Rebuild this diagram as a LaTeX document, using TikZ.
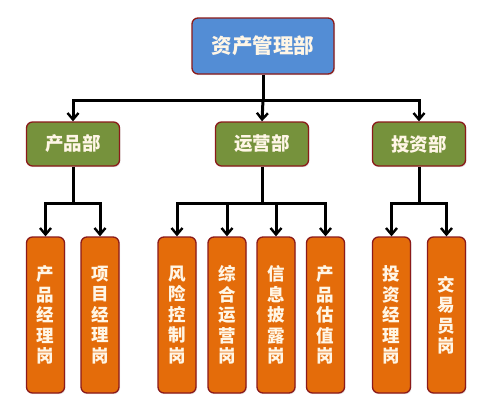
\documentclass[tikz,border=0pt]{standalone}
\usepackage{fontspec}
\newfontfamily\cjk{Noto Sans CJK SC}
\usetikzlibrary{arrows.meta,shadows}
\definecolor{topblue}{HTML}{538DD5}
\definecolor{deptgreen}{HTML}{76923C}
\definecolor{leaforange}{HTML}{E46C0A}
\definecolor{edgered}{HTML}{8B1A1A}
\definecolor{txt}{HTML}{FFF6E6}
\tikzset{
  x=1pt,y=1pt,
  boxbase/.style={draw=edgered,line width=1.3pt,rounded corners=6pt,text=txt,
    font=\cjk\bfseries,inner sep=0pt,
    drop shadow={opacity=0.18,shadow xshift=1pt,shadow yshift=-1.2pt}},
  topbox/.style={boxbase,fill=topblue,minimum width=142pt,minimum height=56pt,font=\cjk\bfseries\fontsize{20.5}{20.5}\selectfont},
  deptbox/.style={boxbase,fill=deptgreen,minimum width=93pt,minimum height=44pt,font=\cjk\bfseries\fontsize{18.5}{18.5}\selectfont},
  leafbox/.style={boxbase,fill=leaforange,minimum width=38pt,minimum height=156pt,align=center,font=\cjk\bfseries\fontsize{17.5}{20.5}\selectfont},
  conn/.style={line width=3pt,black},
  arr/.style={conn,-{Straight Barb[length=6.5pt,width=11pt,line width=2.4pt]}}
}
\begin{document}
\begin{tikzpicture}
\useasboundingbox (0,0) rectangle (500,-402);
\fill[white] (0,0) rectangle (500,-402);
% top
\node[topbox] (top) at (263,-46) {资产管理部};
% departments
\node[deptbox] (d1) at (73,-144) {产品部};
\node[deptbox] (d2) at (262,-144) {运营部};
\node[deptbox] (d3) at (419,-144) {投资部};
% leaves
\node[leafbox] (l1) at (45.5,-315) {产\\品\\经\\理\\岗};
\node[leafbox] (l2) at (100,-315) {项\\目\\经\\理\\岗};
\node[leafbox] (l3) at (177,-315) {风\\险\\控\\制\\岗};
\node[leafbox] (l4) at (227,-315) {综\\合\\运\\营\\岗};
\node[leafbox] (l5) at (276,-315) {信\\息\\披\\露\\岗};
\node[leafbox] (l6) at (325.5,-315) {产\\品\\估\\值\\岗};
\node[leafbox] (l7) at (391.5,-315) {投\\资\\经\\理\\岗};
\node[leafbox] (l8) at (446.5,-315) {交\\易\\员\\岗};
% bus coordinates
\coordinate (bus) at (263,-100);
\coordinate (b1) at (73,-203);
\coordinate (b2) at (262,-203);
\coordinate (b3) at (419,-203);
% connectors
\draw[conn] (top.south) -- (bus);
\draw[arr] (bus) -| (d1.north);
\draw[arr] (bus) -- (d2.north);
\draw[arr] (bus) -| (d3.north);
\draw[conn] (d1.south) -- (b1);
\draw[arr] (b1) -| (l1.north);
\draw[arr] (b1) -| (l2.north);
\draw[conn] (d2.south) -- (b2);
\draw[arr] (b2) -| (l3.north);
\draw[arr] (b2) -| (l4.north);
\draw[arr] (b2) -| (l5.north);
\draw[arr] (b2) -| (l6.north);
\draw[conn] (d3.south) -- (b3);
\draw[arr] (b3) -| (l7.north);
\draw[arr] (b3) -| (l8.north);
\end{tikzpicture}
\end{document}
